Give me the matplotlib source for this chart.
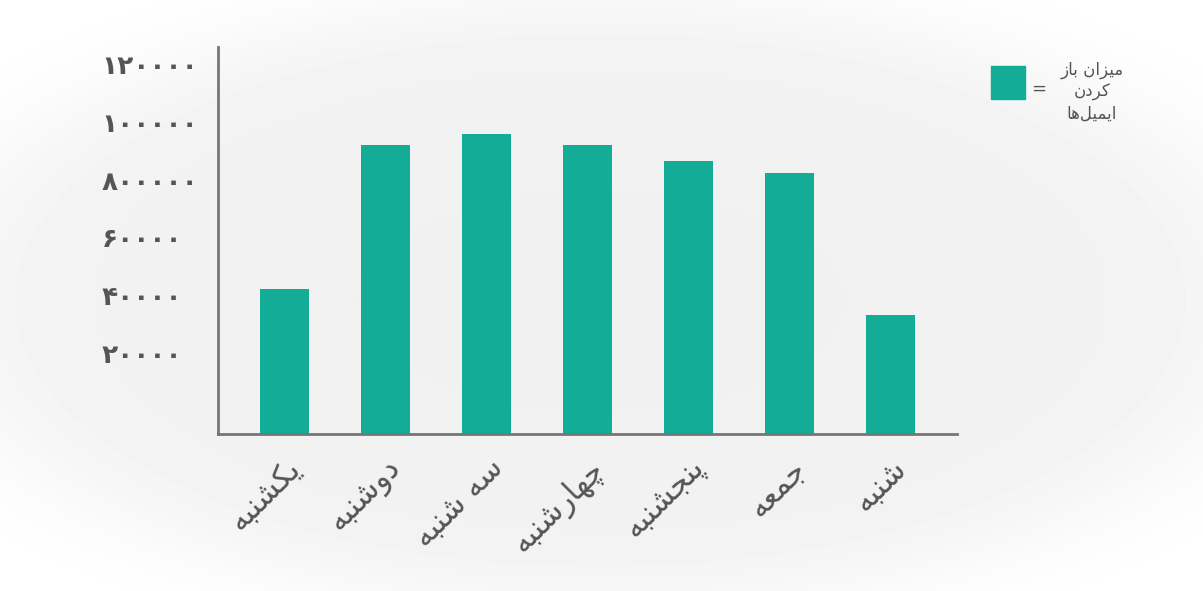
import numpy as np
import matplotlib.pyplot as plt
from matplotlib.patches import Rectangle
from matplotlib.transforms import ScaledTranslation

days = ['یکشنبه', 'دوشنبه', 'سه شنبه', 'چهارشنبه', 'پنجشنبه', 'جمعه', 'شنبه']
opens = [42000, 92000, 96000, 92000, 86500, 82500, 33300]
ytick_values = [20000, 40000, 60000, 80000, 100000, 120000]
ytick_labels = ['۲۰۰۰۰', '۴۰۰۰۰', '۶۰۰۰۰', '۸۰۰۰۰۰', '۱۰۰۰۰۰', '۱۲۰۰۰۰']
legend_lines = ['میزان باز', 'کردن', 'ایمیل‌ها']

BAR_COLOR = '#13ad97'
TEXT_COLOR = '#555555'
AXIS_COLOR = '#767676'

# joining forms: isolated, final, initial, medial (None = does not join forward)
FORMS = {
    'ا': ('\uFE8D', '\uFE8E', None, None),
    'ب': ('\uFE8F', '\uFE90', '\uFE91', '\uFE92'),
    'پ': ('\uFB56', '\uFB57', '\uFB58', '\uFB59'),
    'ج': ('\uFE9D', '\uFE9E', '\uFE9F', '\uFEA0'),
    'چ': ('\uFB7A', '\uFB7B', '\uFB7C', '\uFB7D'),
    'د': ('\uFEA9', '\uFEAA', None, None),
    'ر': ('\uFEAD', '\uFEAE', None, None),
    'ز': ('\uFEAF', '\uFEB0', None, None),
    'س': ('\uFEB1', '\uFEB2', '\uFEB3', '\uFEB4'),
    'ش': ('\uFEB5', '\uFEB6', '\uFEB7', '\uFEB8'),
    'ع': ('\uFEC9', '\uFECA', '\uFECB', '\uFECC'),
    'ک': ('\uFB8E', '\uFB8F', '\uFB90', '\uFB91'),
    'ل': ('\uFEDD', '\uFEDE', '\uFEDF', '\uFEE0'),
    'م': ('\uFEE1', '\uFEE2', '\uFEE3', '\uFEE4'),
    'ن': ('\uFEE5', '\uFEE6', '\uFEE7', '\uFEE8'),
    'ه': ('\uFEE9', '\uFEEA', '\uFEEB', '\uFEEC'),
    'و': ('\uFEED', '\uFEEE', None, None),
    'ی': ('\uFBFC', '\uFBFD', '\uFBFE', '\uFBFF'),
}


def shape(text):
    # minimal persian shaping + reversal, matplotlib has no bidi support
    out = []
    for i, c in enumerate(text):
        if c not in FORMS:
            if c != '\u200c':
                out.append(c)
            continue
        iso, fin, ini, med = FORMS[c]
        prev = text[i - 1] if i > 0 else None
        nxt = text[i + 1] if i + 1 < len(text) else None
        joins_prev = prev in FORMS and FORMS[prev][2] is not None
        joins_next = nxt in FORMS and ini is not None
        if joins_prev and joins_next:
            out.append(med)
        elif joins_prev:
            out.append(fin)
        elif joins_next:
            out.append(ini)
        else:
            out.append(iso)
    return ''.join(reversed(out))


plt.rcParams['font.family'] = ['DejaVu Sans']

fig = plt.figure(figsize=(12.03, 5.91), dpi=100)
fig.patch.set_facecolor('white')

# soft grey cloud behind the chart
bg = fig.add_axes([0, 0, 1, 1], zorder=-10)
yy, xx = np.mgrid[0:591, 0:1203]
d = ((xx - 600) / 660.0) ** 2 + ((yy - 300) / 300.0) ** 2
shade = 1 - 0.055 / (1 + np.exp((d - 1.0) * 6))
bg.imshow(shade, cmap='gray', vmin=0, vmax=1, aspect='auto', interpolation='bilinear')
bg.axis('off')

ax = fig.add_axes([218 / 1203, 1 - 434 / 591, (957 - 218) / 1203, (434 - 47) / 591])
ax.set_facecolor('none')

y_min, y_max = -8100, 126000
x = np.arange(len(days))
ax.bar(x, np.array(opens) - y_min, bottom=y_min, width=0.48, color=BAR_COLOR)

ax.set_xlim(-0.66, 6.66)
ax.set_ylim(y_min, y_max)

for side in ['top', 'right']:
    ax.spines[side].set_visible(False)
for side in ['left', 'bottom']:
    ax.spines[side].set_color(AXIS_COLOR)
    ax.spines[side].set_linewidth(2)

ax.set_yticks(ytick_values)
ax.set_yticklabels(ytick_labels, fontsize=19, fontweight='bold', color=TEXT_COLOR)
ax.tick_params(axis='y', length=0, pad=84)
for lbl in ax.get_yticklabels():
    lbl.set_horizontalalignment('left')

ax.set_xticks(x)
ax.set_xticklabels([shape(d) for d in days], fontsize=22, color=TEXT_COLOR,
                   rotation=45, ha='right', va='top', rotation_mode='anchor')
ax.tick_params(axis='x', length=0, pad=14)
offset = ScaledTranslation(2 / 100, 0, fig.dpi_scale_trans)
for lbl in ax.get_xticklabels():
    lbl.set_transform(lbl.get_transform() + offset)

# legend: square = text
fig.add_artist(Rectangle((991 / 1203, 1 - 99 / 591), 34 / 1203, 33 / 591,
                         transform=fig.transFigure, color=BAR_COLOR))
fig.text(1039 / 1203, 1 - 89 / 591, '=', fontsize=13, color=TEXT_COLOR,
         ha='center', va='center')
for i, line in enumerate(legend_lines):
    fig.text(1092 / 1203, 1 - (70 + i * 22) / 591, shape(line), fontsize=12,
             color=TEXT_COLOR, ha='center', va='center')

fig.savefig('out.png', dpi=100)
